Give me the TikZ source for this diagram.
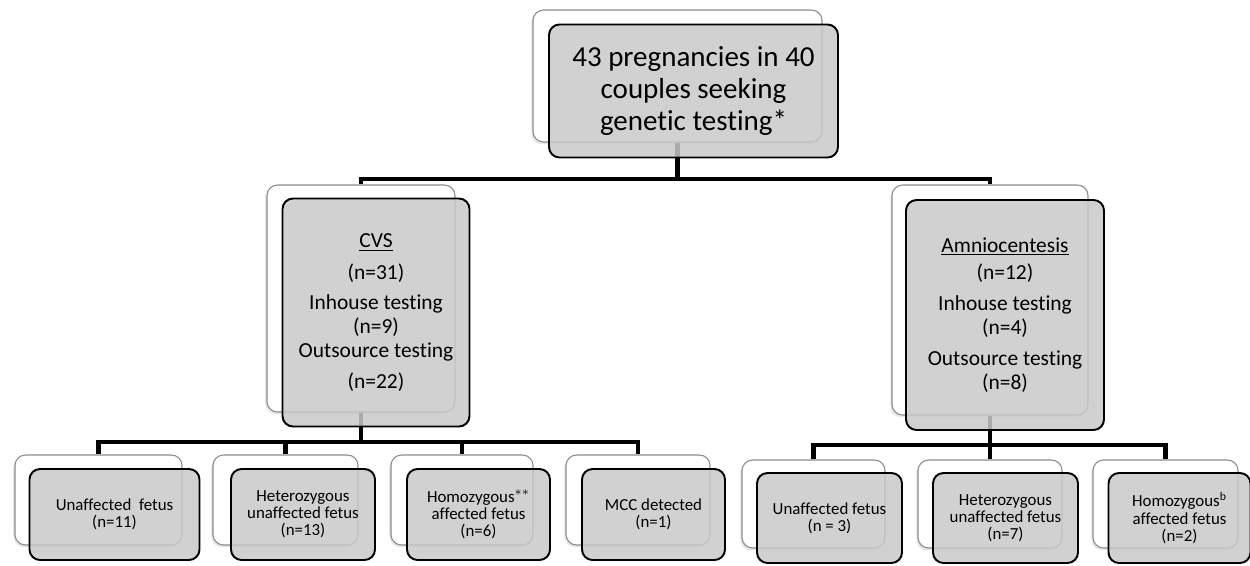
\documentclass[tikz,border=0pt]{standalone}
\usepackage{fontspec}
\setmainfont{Carlito}[Ligatures=NoCommon]
\usetikzlibrary{shadows}
\newcommand\px{0.02cm}
\tikzset{
  backbox/.style={draw=black!45, line width=0.6pt, fill=white, rounded corners=6pt,
    inner sep=0pt, drop shadow={shadow xshift=-1pt, shadow yshift=-1.2pt, opacity=0.2}},
  frontbox/.style={draw=black, line width=1.1pt, fill=black!21, fill opacity=0.85,
    text opacity=1, rounded corners=6pt, inner sep=0pt, align=center},
  conn/.style={line width=2.6pt, black},
  bigfont/.style={font=\fontsize{16.5}{18}\selectfont},
  midfont/.style={font=\fontsize{12.2}{13.6}\selectfont},
  smallfont/.style={font=\fontsize{9.6}{9.8}\selectfont},
}
\begin{document}
\begin{tikzpicture}[x=\px, y=-\px]
  \useasboundingbox (0,0) rectangle (1250,565);

  % back boxes
  \node[backbox, minimum width=289*\px, minimum height=132*\px] (topback) at (677.5,76) {};
  \node[backbox, minimum width=188*\px, minimum height=227*\px] (cvsback) at (361,298.5) {};
  \node[backbox, minimum width=196*\px, minimum height=230*\px] (amnioback) at (990,300) {};

  \node[backbox, minimum width=167*\px, minimum height=90*\px] (c1back) at (98.5,500) {};
  \node[backbox, minimum width=145*\px, minimum height=90*\px] (c2back) at (285.5,500) {};
  \node[backbox, minimum width=142*\px, minimum height=90*\px] (c3back) at (462,500) {};
  \node[backbox, minimum width=144*\px, minimum height=90*\px] (c4back) at (638,500) {};

  \node[backbox, minimum width=143*\px, minimum height=88*\px] (a1back) at (813.5,504) {};
  \node[backbox, minimum width=144*\px, minimum height=88*\px] (a2back) at (990,504) {};
  \node[backbox, minimum width=145*\px, minimum height=88*\px] (a3back) at (1165.5,504) {};

  % connectors
  \coordinate (j0) at (677.5,179);
  \draw[conn] (topback.south) -- (j0) -| (cvsback.north);
  \draw[conn] (j0) -| (amnioback.north);

  \coordinate (j1) at (361,442);
  \draw[conn] (cvsback.south) -- (j1);
  \draw[conn] (j1) -| (c1back.north);
  \draw[conn] (j1) -| (c2back.north);
  \draw[conn] (j1) -| (c3back.north);
  \draw[conn] (j1) -| (c4back.north);

  \coordinate (j2) at (990,445);
  \draw[conn] (amnioback.south) -- (a2back.north);
  \draw[conn] (a1back.north) |- (j2) -| (a3back.north);

  % front boxes
  \node[frontbox, bigfont, minimum width=289*\px, minimum height=133*\px] (top)
    at ([shift={(16,15)}]topback.center) {43 pregnancies in 40\\couples seeking\\genetic testing*};

  \node[frontbox, midfont, minimum width=187*\px, minimum height=228*\px] (cvs)
    at ([shift={(15,14)}]cvsback.center)
    {\underline{CVS}\\[4.5pt](n=31)\\[3.4pt]Inhouse testing\\(n=9)\\Outsource testing\\[4pt](n=22)};
  \node[frontbox, midfont, minimum width=198*\px, minimum height=230*\px] (amnio)
    at ([shift={(15,15)}]amnioback.center)
    {\underline{Amniocentesis}\\[1.7pt](n=12)\\[4.5pt]Inhouse testing\\(n=4)\\[4pt]Outsource testing\\(n=8)};

  \node[frontbox, smallfont, minimum width=170*\px, minimum height=91*\px] (c1)
    at ([shift={(16,14.5)}]c1back.center) {Unaffected\ \ fetus\\(n=11)};
  \node[frontbox, smallfont, minimum width=144*\px, minimum height=91*\px] (c2)
    at ([shift={(17.5,14.5)}]c2back.center) {Heterozygous\\unaffected fetus\\(n=13)};
  \node[frontbox, smallfont, minimum width=143*\px, minimum height=91*\px] (c3)
    at ([shift={(16.5,14.5)}]c3back.center) {Homozygous$^{**}$\\affected fetus\\(n=6)};
  \node[frontbox, smallfont, minimum width=143*\px, minimum height=91*\px] (c4)
    at ([shift={(15.5,14.5)}]c4back.center) {MCC detected\\(n=1)};

  \node[frontbox, smallfont, minimum width=145*\px, minimum height=90*\px] (a1)
    at ([shift={(16,14)}]a1back.center) {Unaffected fetus\\(n = 3)};
  \node[frontbox, smallfont, minimum width=145*\px, minimum height=90*\px] (a2)
    at ([shift={(15.5,14)}]a2back.center) {Heterozygous\\unaffected fetus\\(n=7)};
  \node[frontbox, smallfont, minimum width=142*\px, minimum height=90*\px] (a3)
    at ([shift={(14,14)}]a3back.center) {Homozygous\textsuperscript{b}\\affected fetus\\(n=2)};
\end{tikzpicture}
\end{document}
